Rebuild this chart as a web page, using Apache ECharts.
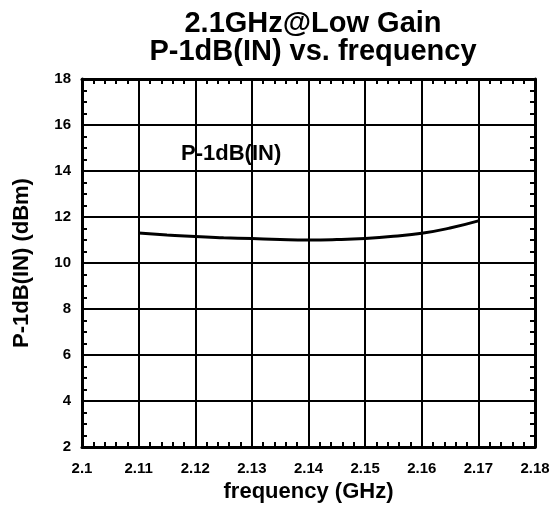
<!DOCTYPE html>
<html>
<head>
<meta charset="utf-8">
<script src="https://cdn.jsdelivr.net/npm/echarts@6/dist/echarts.min.js"></script>
<style>
  html, body { margin: 0; padding: 0; background: #fff; }
  #myChart { width: 553px; height: 514px; }
</style>
</head>
<body>
<div id="myChart"></div>
<script>
    // 数据
    var freq = [2.11, 2.115, 2.12, 2.125, 2.13, 2.135, 2.14, 2.145, 2.15, 2.155, 2.16, 2.165, 2.17]
    var p1dbIn = [11.30, 11.22, 11.15, 11.10, 11.06, 11.02, 11.00, 11.02, 11.07, 11.16, 11.29, 11.52, 11.83]
    var seriesName = 'P-1dB(IN)'

    var font = "'Liberation Sans', Arial, sans-serif"

    function axisBase(min, max, interval, minorSplit) {
        return {
            type: 'value',
            min: min,
            max: max,
            interval: interval,
            axisLine: {show: true, onZero: false, lineStyle: {color: '#000', width: 3}},
            axisTick: {show: true, inside: true, length: 5, lineStyle: {color: '#000', width: 2}},
            minorTick: {show: true, splitNumber: minorSplit, length: 5, lineStyle: {color: '#000', width: 2}},
            splitLine: {show: false},
            axisLabel: {show: false}
        }
    }

    var xBottom = axisBase(2.1, 2.18, 0.01, 5)
    xBottom.position = 'bottom'
    xBottom.splitLine = {show: true, lineStyle: {color: '#000', width: 2}}
    xBottom.axisLabel = {show: true, color: '#000', fontFamily: font, fontWeight: 'bold', fontSize: 15, margin: 14}
    xBottom.name = 'frequency (GHz)'
    xBottom.nameLocation = 'middle'
    xBottom.nameGap = 31
    xBottom.nameTextStyle = {color: '#000', fontFamily: font, fontWeight: 'bold', fontSize: 22}
    var xTop = axisBase(2.1, 2.18, 0.01, 5)
    xTop.position = 'top'

    var yLeft = axisBase(2, 18, 2, 4)
    yLeft.position = 'left'
    yLeft.splitLine = {show: true, lineStyle: {color: '#000', width: 2}}
    yLeft.axisLabel = {show: true, color: '#000', fontFamily: font, fontWeight: 'bold', fontSize: 15, margin: 11}
    yLeft.name = 'P-1dB(IN) (dBm)'
    yLeft.nameLocation = 'middle'
    yLeft.nameGap = 49
    yLeft.nameTextStyle = {color: '#000', fontFamily: font, fontWeight: 'bold', fontSize: 22}
    var yRight = axisBase(2, 18, 2, 4)
    yRight.position = 'right'

    var myChart = echarts.init(document.getElementById('myChart'))
    myChart.setOption({
        animation: false,
        title: {
            text: '2.1GHz@Low Gain\nP-1dB(IN) vs. frequency',
            left: 308,
            textAlign: 'center',
            top: 5,
            textStyle: {color: '#000', fontFamily: font, fontWeight: 'bold', fontSize: 29, lineHeight: 28}
        },
        grid: {left: 82, right: 18, top: 79, bottom: 67},
        xAxis: [xBottom, xTop],
        yAxis: [yLeft, yRight],
        graphic: [{
            type: 'text',
            left: 181,
            top: 143,
            style: {text: seriesName, fill: '#000', font: 'bold 22px ' + font}
        }],
        series: [{
            name: seriesName,
            type: 'line',
            smooth: true,
            symbol: 'none',
            xAxisIndex: 0,
            yAxisIndex: 0,
            lineStyle: {color: '#000', width: 3},
            data: freq.map(function (f, i) { return [f, p1dbIn[i]] })
        }]
    })
</script>
</body>
</html>
